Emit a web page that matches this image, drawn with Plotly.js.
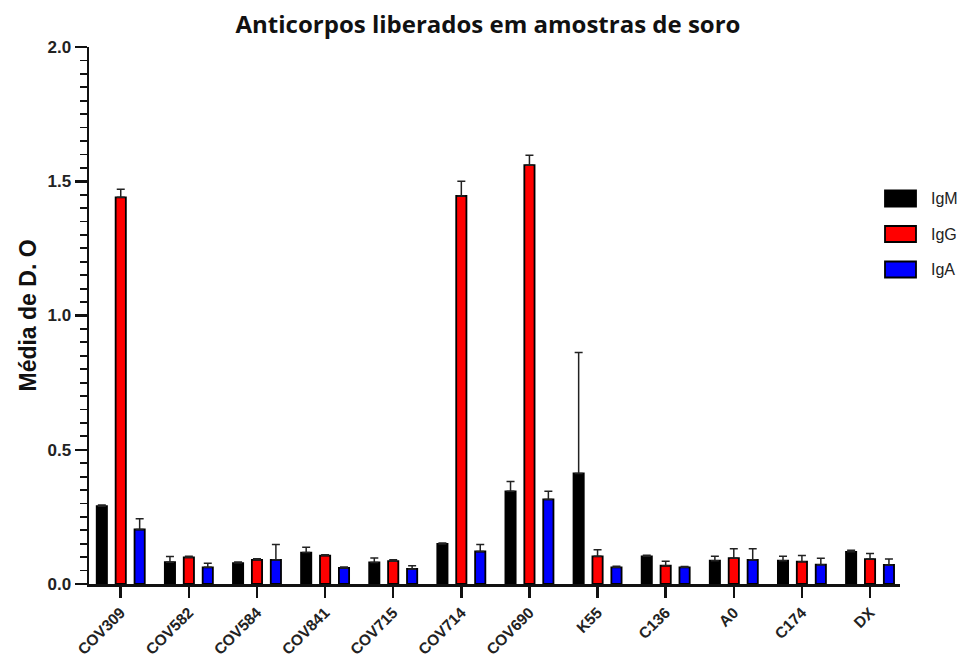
<!DOCTYPE html>
<html>
<head>
<meta charset="utf-8">
<script src="https://cdn.plot.ly/plotly-3.0.1.min.js"></script>
<style>
  html, body { margin: 0; padding: 0; background: #ffffff; }
  #chart { width: 962px; height: 660px; }
</style>
</head>
<body>
<div id="chart"></div>
<script>
// Amostras de soro analisadas
const categories = ['COV309', 'COV582', 'COV584', 'COV841', 'COV715', 'COV714',
                    'COV690', 'K55', 'C136', 'A0', 'C174', 'DX'];

// Média de D.O por classe de anticorpo e desvio (apenas para cima)
const igmMean = [0.290, 0.081, 0.078, 0.117, 0.080, 0.149, 0.345, 0.412, 0.103, 0.087, 0.087, 0.120];
const igmErr  = [0.004, 0.021, 0.004, 0.020, 0.017, 0.004, 0.037, 0.450, 0.004, 0.016, 0.016, 0.006];

const iggMean = [1.440, 0.099, 0.090, 0.106, 0.085, 1.445, 1.560, 0.103, 0.068, 0.096, 0.083, 0.093];
const iggErr  = [0.030, 0.004, 0.004, 0.003, 0.005, 0.055, 0.037, 0.025, 0.017, 0.035, 0.023, 0.021];

const igaMean = [0.203, 0.062, 0.090, 0.060, 0.056, 0.121, 0.315, 0.062, 0.062, 0.090, 0.072, 0.071];
const igaErr  = [0.040, 0.015, 0.057, 0.003, 0.012, 0.026, 0.030, 0.004, 0.003, 0.041, 0.024, 0.022];

const seriesNames  = ['IgM', 'IgG', 'IgA'];
const seriesColors = ['#000000', '#ff0000', '#0000ff'];
const seriesMeans  = [igmMean, iggMean, igaMean];
const seriesErrs   = [igmErr, iggErr, igaErr];

const xIdx = categories.map((_, i) => i);

const traces = seriesNames.map((name, s) => ({
  type: 'bar',
  name: name,
  x: xIdx,
  y: seriesMeans[s],
  marker: { color: seriesColors[s], line: { color: '#000000', width: 1.8 } },
  error_y: {
    type: 'data',
    symmetric: false,
    array: seriesErrs[s],
    arrayminus: seriesErrs[s].map(() => 0),
    color: '#222222',
    thickness: 1.5,
    width: 4
  },
  showlegend: false,
  hoverinfo: 'x+y'
}));

// Legenda desenhada à direita do gráfico: retângulos e rótulos
const legendShapes = [];
const legendLabels = [];
const plotTop = 47, plotBottom = 584, plotLeft = 89, plotRight = 900;
const pxToPaperX = px => (px - plotLeft) / (plotRight - plotLeft);
const pxToPaperY = py => (plotBottom - py) / (plotBottom - plotTop);
seriesNames.forEach((name, s) => {
  const cy = 198.5 + s * 35.5;
  legendShapes.push({
    type: 'rect', xref: 'paper', yref: 'paper',
    x0: pxToPaperX(885), x1: pxToPaperX(916),
    y0: pxToPaperY(cy + 8), y1: pxToPaperY(cy - 8),
    fillcolor: seriesColors[s],
    line: { color: '#000000', width: 1.8 }
  });
  legendLabels.push({
    xref: 'paper', yref: 'paper',
    x: pxToPaperX(929), y: pxToPaperY(cy),
    xanchor: 'left', yanchor: 'middle',
    text: name, showarrow: false,
    font: { family: 'Liberation Sans, Arial, sans-serif', size: 16, color: '#222222' }
  });
});

const layout = {
  width: 962,
  height: 660,
  margin: { l: plotLeft, r: 962 - plotRight, t: plotTop, b: 660 - plotBottom },
  paper_bgcolor: '#ffffff',
  plot_bgcolor: '#ffffff',
  barmode: 'group',
  bargap: 0.167,
  bargroupgap: 0.46,
  title: {
    text: '<b>Anticorpos liberados em amostras de soro</b>',
    font: { family: 'Open Sans, sans-serif', size: 24, color: '#111111' },
    x: 0.492, xref: 'paper', xanchor: 'center',
    y: 0.962, yref: 'container', yanchor: 'middle'
  },
  xaxis: {
    type: 'linear',
    range: [-0.466, 11.44],
    tickmode: 'array',
    tickvals: xIdx,
    ticktext: categories,
    tickangle: -45,
    ticks: 'outside',
    ticklen: 11,
    tickwidth: 2.5,
    tickcolor: '#111111',
    showline: true,
    linewidth: 2.5,
    linecolor: '#111111',
    showgrid: false,
    zeroline: false,
    tickfont: { family: 'Liberation Sans, Arial, sans-serif', size: 15.5, color: '#222222', weight: 'bold' }
  },
  yaxis: {
    range: [0, 2],
    tickmode: 'linear',
    tick0: 0,
    dtick: 0.5,
    tickformat: '.1f',
    ticks: 'outside',
    ticklen: 12,
    tickwidth: 2.5,
    tickcolor: '#111111',
    minor: { dtick: 0.05, ticks: 'outside', ticklen: 7, tickwidth: 1.8, tickcolor: '#111111' },
    showline: true,
    linewidth: 2.5,
    linecolor: '#111111',
    showgrid: false,
    zeroline: false,
    tickfont: { family: 'Liberation Sans, Arial, sans-serif', size: 17, color: '#222222', weight: 'bold' },
    title: {
      text: '<b>Média de D. O</b>',
      font: { family: 'Liberation Sans, Arial, sans-serif', size: 23, color: '#111111' },
      standoff: 5
    }
  },
  shapes: legendShapes,
  annotations: legendLabels,
  showlegend: false
};

Plotly.newPlot('chart', traces, layout, { displayModeBar: false, staticPlot: true });
</script>
</body>
</html>
